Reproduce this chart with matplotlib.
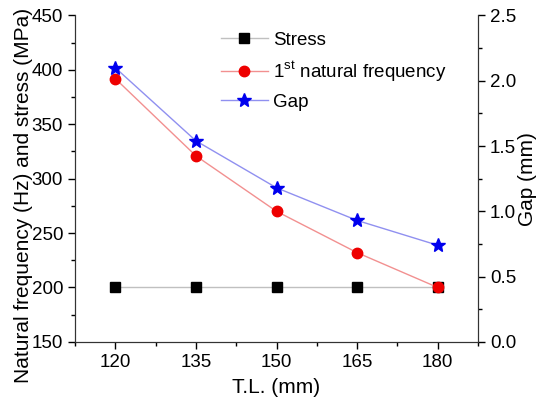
import matplotlib
matplotlib.use('Agg')
import matplotlib.pyplot as plt
from matplotlib.ticker import MultipleLocator, FormatStrFormatter

plt.rcParams['font.family'] = ['Liberation Sans', 'DejaVu Sans']
plt.rcParams['mathtext.fontset'] = 'custom'
plt.rcParams['mathtext.rm'] = 'Liberation Sans'

tl = [120, 135, 150, 165, 180]
stress = [200, 200, 200, 200, 200]
frequency = [392, 321, 270, 232, 200]
gap = [2.10, 1.54, 1.18, 0.93, 0.74]

fig = plt.figure(figsize=(5.47, 4.07), dpi=100)
ax = fig.add_axes([0.137, 0.160, 0.737, 0.802])
ax2 = ax.twinx()

l1, = ax.plot(tl, stress, color='#c0c0c0', lw=1, marker='s', ms=6.5,
              mfc='black', mec='black', label='Stress')
l2, = ax.plot(tl, frequency, color='#f29090', lw=1, marker='o', ms=7.5,
              mfc='#ee0000', mec='#ee0000', label='1$^{\\rm st}$ natural frequency')
l3, = ax2.plot(tl, gap, color='#9090f0', lw=1, marker='*', ms=10,
               mfc='#0000ee', mec='#0000ee', label='Gap')

ax.set_xlim(112.5, 187.5)
ax.set_ylim(150, 450)
ax2.set_ylim(0, 2.5)
ax.set_xticks(tl)
ax.xaxis.set_minor_locator(MultipleLocator(7.5))
ax.yaxis.set_major_locator(MultipleLocator(50))
ax.yaxis.set_minor_locator(MultipleLocator(25))
ax2.yaxis.set_major_locator(MultipleLocator(0.5))
ax2.yaxis.set_minor_locator(MultipleLocator(0.25))
ax2.yaxis.set_major_formatter(FormatStrFormatter('%.1f'))

for a in (ax, ax2):
    a.tick_params(which='major', direction='out', length=5, width=1, labelsize=13.5)
    a.tick_params(which='minor', direction='out', length=3, width=1)
    for s in a.spines.values():
        s.set_color('#333333')
ax.spines['top'].set_visible(False)
ax2.spines['top'].set_visible(False)

ax.set_xlabel('T.L. (mm)', fontsize=15)
ax.set_ylabel('Natural frequency (Hz) and stress (MPa)', fontsize=15)
ax2.set_ylabel('Gap (mm)', fontsize=15)
ax.yaxis.set_label_coords(-0.104, 0.45)
ax2.yaxis.set_label_coords(1.10, 0.5)
ax.xaxis.set_label_coords(0.5, -0.11)

ax.legend([l1, l2, l3], [l.get_label() for l in (l1, l2, l3)],
          loc='upper left', bbox_to_anchor=(0.362, 0.95), frameon=False,
          borderpad=0, borderaxespad=0, handletextpad=0.3,
          fontsize=13.5, handlelength=2.5, labelspacing=0.55)

fig.savefig('out.png', dpi=100)
